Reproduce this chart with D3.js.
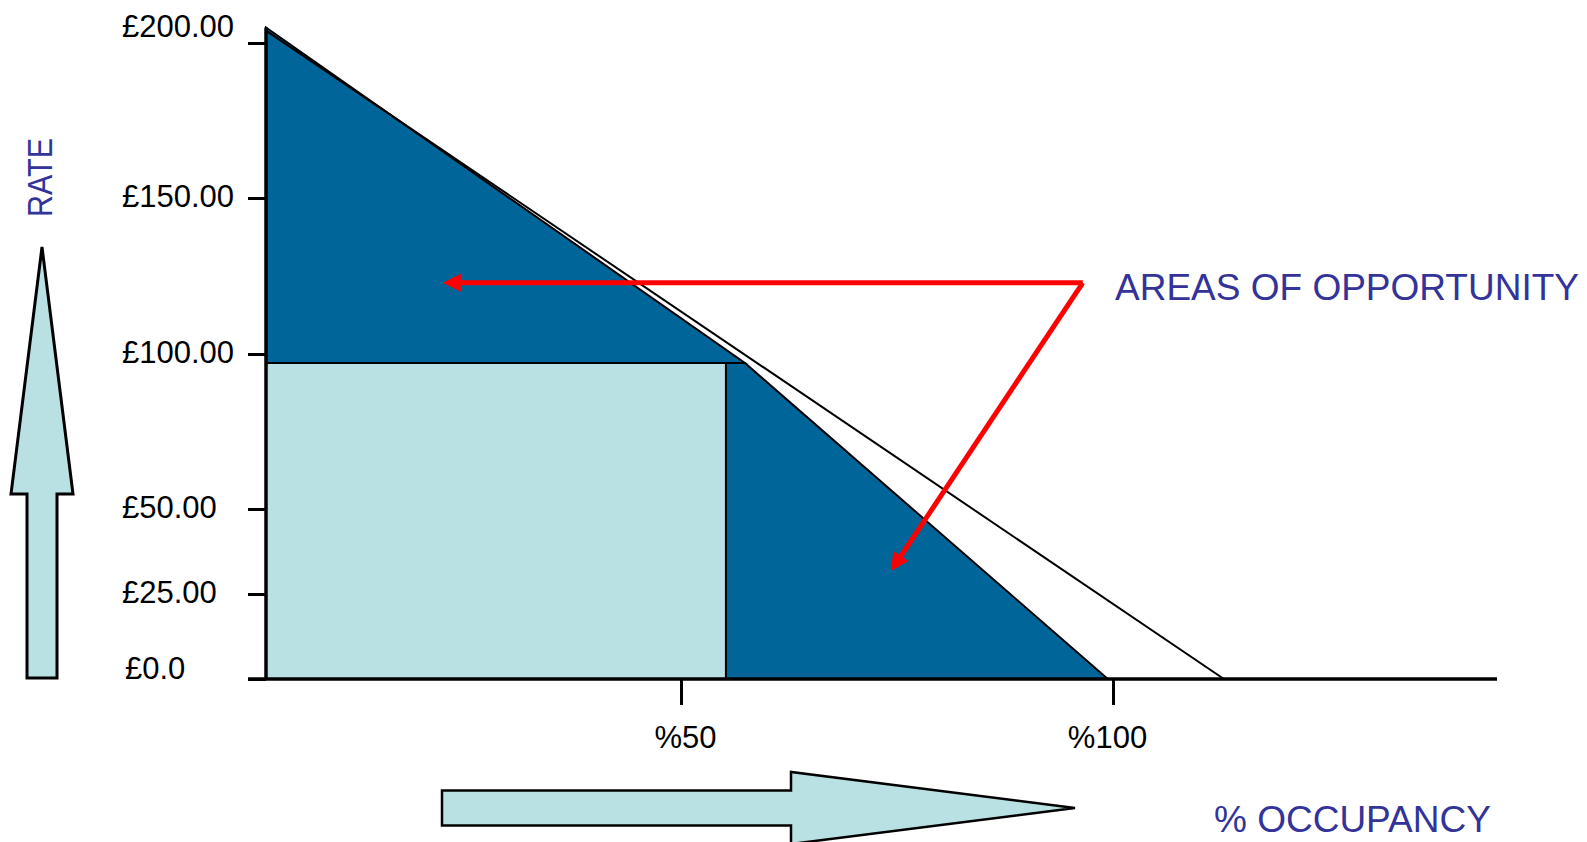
<!DOCTYPE html>
<html><head><meta charset="utf-8">
<script src="https://cdn.jsdelivr.net/npm/d3@7"></script>
<style>html,body{margin:0;padding:0;background:#fff;} svg{display:block;}</style>
</head><body>
<svg id="chart" width="1587" height="842"></svg>
<script>
// ---- data ----
const rateTicks = [0, 25, 50, 100, 150, 200];
const rateTickLabels = ["£0.0", "£25.00", "£50.00", "£100.00", "£150.00", "£200.00"];
const occupancyTicks = [50, 100];
const occupancyTickLabels = ["%50", "%100"];

// demand (dark area): occupancy %, rate £
const demandOccupancy = [0, 57.4, 99.4];
const demandRate = [205, 97.1, 0];
// achieved revenue (light rectangle)
const achievedOccupancy = [0, 55.2];
const achievedRate = [0, 97.1];
// potential line
const potentialOccupancy = [0, 113];
const potentialRate = [204, 0];
// annotation arrows: origin, target 1, target 2
const annotationOccupancy = [96.5, 21.3, 74.3];
const annotationRate = [122.8, 122.8, 31.8];

const yTitle = "RATE";
const xTitle = "% OCCUPANCY";
const annotationText = "AREAS OF OPPORTUNITY";

// ---- styles ----
const DARK = "#006699", LIGHT = "#b9e0e3", TEXTBLUE = "#333399", RED = "#ff0000";
const FONT = "'Liberation Sans', Arial, sans-serif";

const svg = d3.select("#chart");

const y = d3.scaleLinear().domain(rateTicks).range([679, 594, 509, 354, 198, 43]);
const x = d3.scaleLinear().domain([0, 50, 100, 145]).range([266, 681, 1113, 1497]);

// dark demand area (upper and lower parts)
const upper = [[demandOccupancy[0], demandRate[0]], [demandOccupancy[1], demandRate[1]], [0, demandRate[1]]];
const lower = [[0, demandRate[1]], [demandOccupancy[1], demandRate[1]], [demandOccupancy[2], demandRate[2]], [0, 0]];
const line = d3.line().x(d => x(d[0])).y(d => y(d[1]));
[upper, lower].forEach(p => {
  svg.append("path").attr("d", line(p) + "Z")
    .attr("fill", DARK).attr("stroke", "#000").attr("stroke-width", 2).attr("stroke-linejoin", "miter");
});

// light rectangle
svg.append("rect")
  .attr("x", x(achievedOccupancy[0])).attr("y", y(achievedRate[1]))
  .attr("width", x(achievedOccupancy[1]) - x(achievedOccupancy[0]))
  .attr("height", y(achievedRate[0]) - y(achievedRate[1]))
  .attr("fill", LIGHT).attr("stroke", "#000").attr("stroke-width", 2);

// potential line
svg.append("path")
  .attr("d", line(potentialOccupancy.map((o, i) => [o, potentialRate[i]])))
  .attr("fill", "none").attr("stroke", "#000").attr("stroke-width", 2);

// ---- axes ----
const yAxis = svg.append("g").attr("transform", `translate(${x(0)},0)`)
  .call(d3.axisLeft(y).tickValues(rateTicks).tickSize(18).tickSizeOuter(0)
    .tickFormat((d, i) => rateTickLabels[i]));
yAxis.select(".domain").remove();
yAxis.selectAll(".tick line").attr("stroke", "#000").attr("stroke-width", 3);
yAxis.selectAll(".tick text")
  .attr("x", -144).attr("text-anchor", "start").attr("dy", null)
  .attr("y", d => d === 200 ? -7 : (d === 0 ? -1 : 8))
  .attr("dx", d => d === 0 ? 3 : 0)
  .style("font-family", FONT).style("font-size", "31px").attr("fill", "#000");
svg.append("line").attr("x1", x(0)).attr("x2", x(0))
  .attr("y1", y(0)).attr("y2", y(demandRate[0]))
  .attr("stroke", "#000").attr("stroke-width", 3.5);

const xAxis = svg.append("g").attr("transform", `translate(0,${y(0)})`)
  .call(d3.axisBottom(x).tickValues(occupancyTicks).tickSize(26).tickSizeOuter(0)
    .tickFormat((d, i) => occupancyTickLabels[i]));
xAxis.select(".domain").remove();
xAxis.selectAll(".tick line").attr("stroke", "#000").attr("stroke-width", 3);
xAxis.selectAll(".tick text")
  .attr("y", 69).attr("dy", null).attr("dx", d => d === 50 ? 4 : -6)
  .style("font-family", FONT).style("font-size", "31px").attr("fill", "#000");
svg.append("line").attr("x1", x(0) - 18).attr("x2", x(145))
  .attr("y1", y(0)).attr("y2", y(0))
  .attr("stroke", "#000").attr("stroke-width", 3.5);

// ---- red annotation arrows ----
function redArrow(x1, y1, x2, y2) {
  const dx = x2 - x1, dy = y2 - y1, len = Math.hypot(dx, dy);
  const ux = dx / len, uy = dy / len, headL = 18, headW = 9;
  const bx = x2 - ux * headL, by = y2 - uy * headL;
  svg.append("line").attr("x1", x1).attr("y1", y1).attr("x2", bx + ux * 2).attr("y2", by + uy * 2)
    .attr("stroke", RED).attr("stroke-width", 5);
  svg.append("polygon")
    .attr("points", [[x2, y2], [bx - uy * headW, by + ux * headW], [bx + uy * headW, by - ux * headW]].map(p => p.join(",")).join(" "))
    .attr("fill", RED);
}
const ox = x(annotationOccupancy[0]), oy = y(annotationRate[0]);
redArrow(ox, oy, x(annotationOccupancy[1]), y(annotationRate[1]));
redArrow(ox, oy, x(annotationOccupancy[2]), y(annotationRate[2]));

// ---- decorative direction arrows ----
const upArrow = [[42, 247], [73, 494], [57, 494], [57, 678], [27, 678], [27, 494], [11, 494]];
svg.append("polygon").attr("points", upArrow.map(p => p.join(",")).join(" "))
  .attr("fill", LIGHT).attr("stroke", "#000").attr("stroke-width", 3).attr("stroke-linejoin", "miter");
const rightArrow = [[442, 790.5], [791, 790.5], [791, 772], [1075, 808], [791, 844], [791, 825.5], [442, 825.5]];
svg.append("polygon").attr("points", rightArrow.map(p => p.join(",")).join(" "))
  .attr("fill", LIGHT).attr("stroke", "#000").attr("stroke-width", 2.5).attr("stroke-linejoin", "miter");

// ---- titles ----
svg.append("text").attr("transform", "translate(52,177.5) rotate(-90)")
  .attr("text-anchor", "middle").attr("textLength", 79).attr("lengthAdjust", "spacingAndGlyphs")
  .style("font-family", FONT).style("font-size", "35px").attr("fill", TEXTBLUE).text(yTitle);
svg.append("text").attr("x", 1214).attr("y", 832)
  .style("font-family", FONT).style("font-size", "37px").attr("fill", TEXTBLUE).text(xTitle);
svg.append("text").attr("x", 1115).attr("y", 300)
  .style("font-family", FONT).style("font-size", "37px").attr("fill", TEXTBLUE).text(annotationText);
</script>
</body></html>
